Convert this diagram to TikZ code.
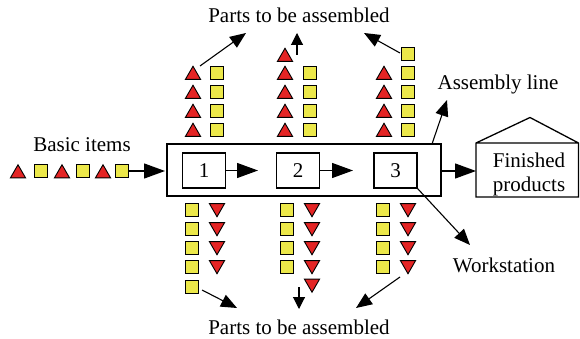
\documentclass[tikz,border=0pt]{standalone}
\usepackage{fontspec}
\setmainfont{Liberation Serif}
\usetikzlibrary{arrows.meta,shapes.geometric}
\definecolor{partyellow}{RGB}{236,232,74}
\definecolor{partred}{RGB}{228,36,36}
\tikzset{
  lbl/.style={font=\fontsize{21}{24}\selectfont, inner sep=0pt},
  sq/.style={draw, fill=partyellow, minimum size=13pt, inner sep=0pt, line width=0.9pt},
  triup/.style={draw, fill=partred, regular polygon, regular polygon sides=3,
                minimum size=17.5pt, inner sep=0pt, line width=0.9pt},
  tridown/.style={triup, shape border rotate=180},
  frame/.style={draw, line width=1.3pt},
  station/.style={draw, line width=1.3pt, minimum width=43pt, minimum height=35pt,
                  inner sep=0pt, font=\fontsize{21}{24}\selectfont},
  bigarrow/.style={line width=1.3pt, -{Triangle[length=21pt,width=15pt]}},
  midarrow/.style={line width=1.1pt, -{Triangle[length=16pt,width=13pt]}},
  smallarrow/.style={line width=1.1pt, -{Triangle[length=12pt,width=12pt]}},
}
\begin{document}
\begin{tikzpicture}[x=1pt,y=-1pt]
\useasboundingbox (0,0) rectangle (580,339);

% assembly line with three workstations
\node[frame, minimum width=274pt, minimum height=52pt, inner sep=0pt] (line) at (304,170) {};
\node[station] (w1) at (204,170.5) {1};
\node[station] (w2) at (298,170.5) {2};
\node[station] (w3) at (395.5,170.5) {3};
\draw[bigarrow] (w1.east) -- (258,170.5) coordinate (w2in);
\draw[bigarrow] (w2.east) -- (353,170.5) coordinate (w3in);

% finished products store
\coordinate (hbl) at (476,197);
\coordinate (htl) at (476,143);
\coordinate (hroof) at (530,117.5);
\coordinate (htr) at (578.5,143);
\coordinate (hbr) at (578.5,197);
\draw[line width=1.3pt, line join=miter] (hbl) -- (htl) -- (hroof) -- (htr) -- (hbr) -- cycle (htl) -- (htr);
\node[lbl, align=center] (fin) at (529,174) {Finished\\products};
\draw[bigarrow] (line.east |- 0,171) -- (476,171);

% basic items entering the line
\node[lbl, anchor=base] (basic) at (82,152) {Basic items};
\node[triup]   (b1) at (18,173.5) {};
\node[sq]      (b2) at (41,171) {};
\node[triup]   (b3) at (62,173.5) {};
\node[sq]      (b4) at (83,171) {};
\node[triup]   (b5) at (103,173.5) {};
\node[sq]      (b6) at (122,171) {};
\draw[bigarrow] (b6.east) -- (165,171);

% parts brought in from above
\node[triup] (u1a) at (193,75) {};
\node[triup] (u1b) at (193,94) {};
\node[triup] (u1c) at (193,113) {};
\node[triup] (u1d) at (193,132) {};
\node[sq] (s1a) at (217,73) {};
\node[sq] (s1b) at (217,92) {};
\node[sq] (s1c) at (217,111) {};
\node[sq] (s1d) at (217,130) {};

\node[triup] (u2o) at (285,57) {};
\node[triup] (u2a) at (285,75) {};
\node[triup] (u2b) at (285,94) {};
\node[triup] (u2c) at (285,113) {};
\node[triup] (u2d) at (285,132) {};
\node[sq] (s2a) at (310,73) {};
\node[sq] (s2b) at (310,92) {};
\node[sq] (s2c) at (310,111) {};
\node[sq] (s2d) at (310,130) {};

\node[triup] (u3a) at (384,75) {};
\node[triup] (u3b) at (384,94) {};
\node[triup] (u3c) at (384,113) {};
\node[triup] (u3d) at (384,132) {};
\node[sq] (s3o) at (408,54) {};
\node[sq] (s3a) at (408,73) {};
\node[sq] (s3b) at (408,92) {};
\node[sq] (s3c) at (408,111) {};
\node[sq] (s3d) at (408,130) {};

\node[lbl, anchor=base] (ptop) at (299,23) {Parts to be assembled};
\coordinate (t1) at (200,66);
\coordinate (t2) at (297,55);
\coordinate (t3) at (400,53);
\draw[midarrow] (t1) -- (246,33);
\draw[smallarrow] (t2) -- (297,33);
\draw[midarrow] (t3) -- (364,33);

% parts brought in from below
\node[sq] (q1a) at (192,210) {};
\node[sq] (q1b) at (192,229) {};
\node[sq] (q1c) at (192,248) {};
\node[sq] (q1d) at (192,267) {};
\node[sq] (q1e) at (192,287) {};
\node[tridown] (d1a) at (217,208) {};
\node[tridown] (d1b) at (217,227) {};
\node[tridown] (d1c) at (217,246) {};
\node[tridown] (d1d) at (217,265) {};

\node[sq] (q2a) at (287,210) {};
\node[sq] (q2b) at (287,229) {};
\node[sq] (q2c) at (287,248) {};
\node[sq] (q2d) at (287,267) {};
\node[tridown] (d2a) at (312,208) {};
\node[tridown] (d2b) at (312,227) {};
\node[tridown] (d2c) at (312,246) {};
\node[tridown] (d2d) at (312,265) {};
\node[tridown] (d2e) at (312,283.5) {};

\node[sq] (q3a) at (383,210) {};
\node[sq] (q3b) at (383,229) {};
\node[sq] (q3c) at (383,248) {};
\node[sq] (q3d) at (383,267) {};
\node[tridown] (d3a) at (408,208) {};
\node[tridown] (d3b) at (408,227) {};
\node[tridown] (d3c) at (408,246) {};
\node[tridown] (d3d) at (408,265) {};

\node[lbl, anchor=base] (pbot) at (299,334) {Parts to be assembled};
\coordinate (v1) at (202,290);
\coordinate (v2) at (299,287);
\coordinate (v3) at (400,277);
\draw[midarrow] (v1) -- (237,308);
\draw[smallarrow] (v2) -- (299,309);
\draw[midarrow] (v3) -- (356,308);

% callouts
\node[lbl, anchor=base] (asm) at (498,90) {Assembly line};
\draw[midarrow] (432,144) -- (447,100);
\node[lbl, anchor=base] (ws) at (504,272) {Workstation};
\draw[midarrow] (w3.south east) -- (470,245);
\end{tikzpicture}
\end{document}
